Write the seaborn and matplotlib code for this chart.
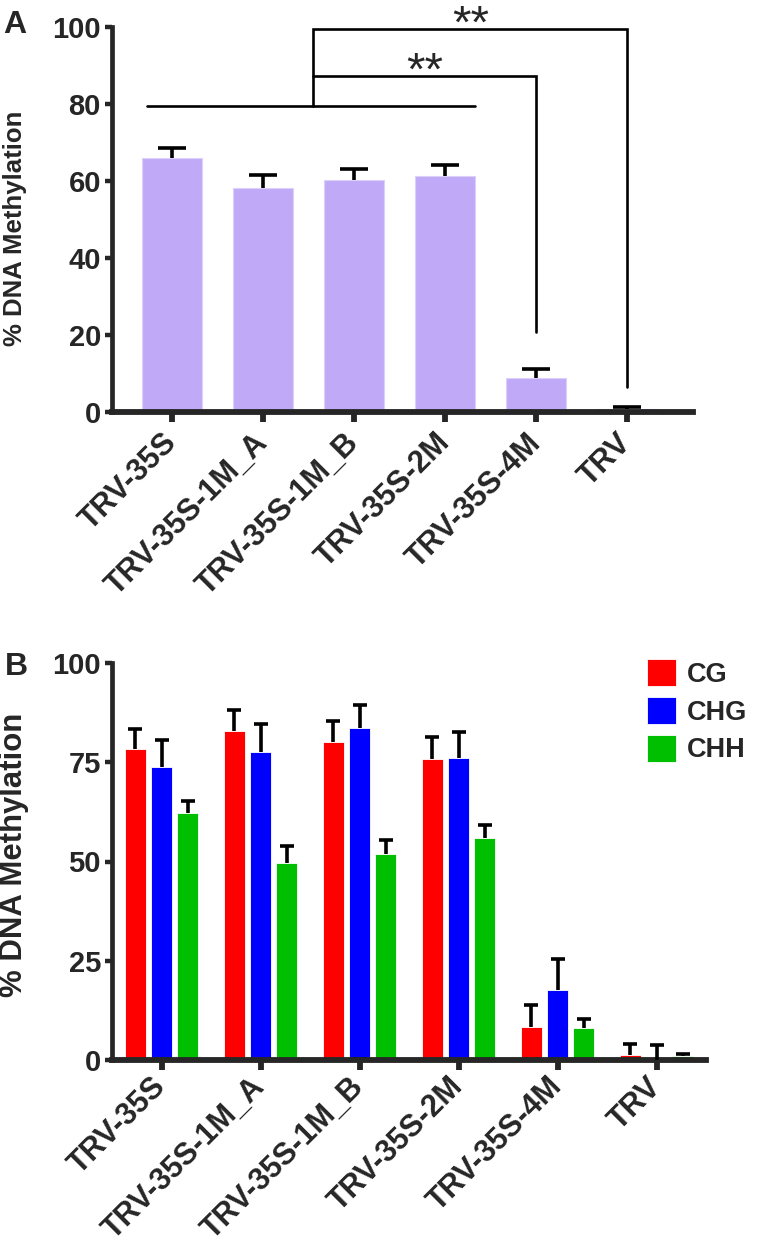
import numpy as np
import pandas as pd
import matplotlib
matplotlib.use("Agg")
import matplotlib.pyplot as plt
import seaborn as sns

constructs = ["TRV-35S", "TRV-35S-1M_A", "TRV-35S-1M_B", "TRV-35S-2M", "TRV-35S-4M", "TRV"]

# panel A: total methylation (mean, SEM)
total_mean = [66.0, 58.2, 60.3, 61.3, 8.9, 0.8]
total_sem = [2.6, 3.4, 2.8, 2.9, 2.2, 0.4]

# panel B: methylation per sequence context (mean, SEM)
contexts = ["CG", "CHG", "CHH"]
cg_mean = [78.4, 82.8, 80.1, 75.8, 8.4, 1.2]
cg_sem = [4.9, 5.4, 5.4, 5.5, 5.5, 2.8]
chg_mean = [73.9, 77.6, 83.7, 76.1, 17.6, 0.0]
chg_sem = [6.8, 7.1, 5.7, 6.6, 7.9, 3.8]
chh_mean = [62.1, 49.7, 51.9, 55.8, 8.0, 1.0]
chh_sem = [3.2, 4.1, 3.6, 3.5, 2.3, 0.4]

sns.set_style("ticks")
plt.rcParams["font.family"] = ["Liberation Sans", "DejaVu Sans"]
plt.rcParams["font.weight"] = "bold"

df_a = pd.DataFrame({"construct": constructs, "mean": total_mean, "sem": total_sem})
df_b = pd.DataFrame({
    "construct": constructs * 3,
    "context": np.repeat(contexts, len(constructs)),
    "mean": cg_mean + chg_mean + chh_mean,
    "sem": cg_sem + chg_sem + chh_sem,
})

W, H = 757, 1249
fig = plt.figure(figsize=(W / 100, H / 100), dpi=100)
axA = fig.add_axes([112 / W, 1 - 412 / H, 580.6 / W, 385 / H])
axB = fig.add_axes([112 / W, 1 - 1060 / H, 594 / W, 397 / H])


def style_axis(ax, ylabel, ylabel_size, xpos, ypos, xsize, xpad):
    sns.despine(ax=ax)
    ax.spines["left"].set_linewidth(3.4)
    ax.spines["bottom"].set_linewidth(4.2)
    ax.tick_params(axis="y", width=3.2, length=5, pad=3, labelsize=21)
    ax.tick_params(axis="x", width=4.2, length=7, pad=xpad)
    ax.set_xlabel("")
    ax.set_ylabel(ylabel, fontsize=ylabel_size, fontweight="bold")
    ax.yaxis.set_label_coords(xpos, ypos)
    ax.yaxis.label.set(va="center", ha="center", rotation_mode="default")
    for lab in ax.get_xticklabels():
        lab.set(rotation=45, ha="right", va="center", rotation_mode="anchor",
                fontsize=xsize, fontweight="bold")


def upper_errorbars(ax, xs, means, sems, capsize):
    # one-sided (upper) SEM bars as drawn by Prism
    _, caps, _ = ax.errorbar(xs, means, yerr=[np.zeros(len(xs)), sems], fmt="none",
                             ecolor="black", elinewidth=2.6, capsize=capsize,
                             capthick=2.6, zorder=3)
    caps[0].remove()


# ---- panel A
sns.barplot(data=df_a, x="construct", y="mean", color="#C0AAF7", saturation=1,
            width=0.66, errorbar=None, edgecolor="#DCD0FA", linewidth=0.8, ax=axA)
bars = axA.containers[0]
xs = [b.get_x() + b.get_width() / 2 for b in bars]
upper_errorbars(axA, xs, df_a["mean"], df_a["sem"], 10.4)
axA.set_ylim(0, 100)
axA.set_xlim(-0.66, 5.72)
axA.set_yticks([0, 20, 40, 60, 80, 100])
style_axis(axA, "% DNA Methylation", 18.5, -0.167, 0.478, 22, 12)

# significance brackets
lk = dict(color="black", lw=1.9, clip_on=False, solid_joinstyle="miter")
axA.plot([-0.27, 3.33], [79.5, 79.5], **lk)
axA.plot([1.55, 1.55, 5.0, 5.0], [79.5, 99.5, 99.5, 6.5], **lk)
axA.plot([1.55, 4.0, 4.0], [87.3, 87.3, 20.8], **lk)
axA.text(3.28, 97.3, "**", ha="center", va="baseline", fontsize=34,
         fontweight="normal", clip_on=False)
axA.text(2.78, 84.9, "**", ha="center", va="baseline", fontsize=34,
         fontweight="normal")

# ---- panel B
palette = {"CG": "#FF0000", "CHG": "#0000FF", "CHH": "#00BE00"}
sns.barplot(data=df_b, x="construct", y="mean", hue="context", palette=palette,
            saturation=1, width=0.79, gap=0.19, errorbar=None,
            edgecolor="white", linewidth=0.6, ax=axB)
for cont, ctx in zip(axB.containers, contexts):
    sub = df_b[df_b["context"] == ctx]
    xs = [b.get_x() + b.get_width() / 2 for b in cont]
    upper_errorbars(axB, xs, sub["mean"], sub["sem"], 4.7)
axB.set_ylim(0, 100)
axB.set_xlim(-0.5, 5.5)
axB.set_yticks([0, 25, 50, 75, 100])
style_axis(axB, "% DNA Methylation", 22.4, -0.165, 0.516, 22, 9)

axB.legend(loc="upper left", bbox_to_anchor=(0.90, 1.01), frameon=False,
           borderaxespad=0, borderpad=0, handlelength=1.1, handleheight=1.18,
           handletextpad=0.4, labelspacing=0.33, prop={"size": 19.5, "weight": "bold"})

fig.text(3 / W, 1 - 33 / H, "A", ha="left", va="baseline", fontsize=23, fontweight="bold")
fig.text(5 / W, 1 - 675 / H, "B", ha="left", va="baseline", fontsize=23, fontweight="bold")

fig.savefig("out.png", dpi=100)
